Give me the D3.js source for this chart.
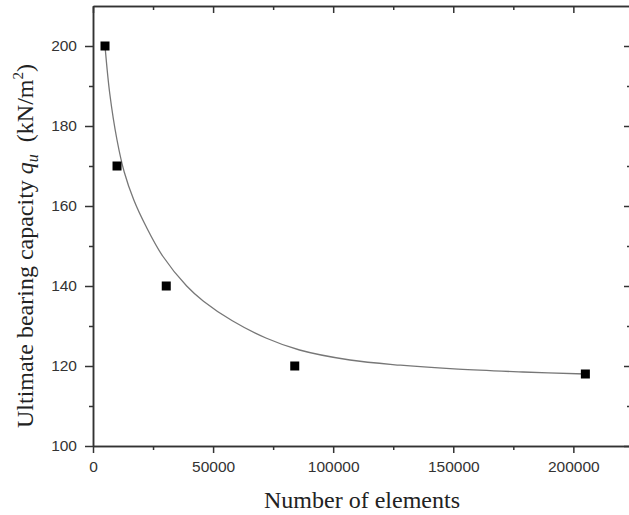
<!DOCTYPE html>
<html>
<head>
<meta charset="utf-8">
<script src="https://cdn.jsdelivr.net/npm/d3@7"></script>
<style>
  body { margin: 0; background: #fff; }
  .tick text { font-family: "Liberation Sans", Arial, sans-serif; font-size: 15.5px; fill: #333; }
  .axis path, .axis line { stroke: #333; stroke-width: 1.5; }
  .title { font-family: "Liberation Serif", "Times New Roman", serif; font-size: 24px; fill: #222; }
</style>
</head>
<body>
<div id="chart"></div>
<script>
// measured points
let elements = [5000, 10000, 30500, 84000, 205000];
let capacity = [200, 170, 140, 120, 118];

// fitted curve
let fitX = [5000, 7000, 10000, 13000, 17000, 22000, 29000, 39000, 46000, 58000, 72000, 86000, 107000, 128000, 152000, 179000, 205000];
let fitY = [200, 188, 176.5, 168.5, 161.5, 155, 147.5, 140, 136.2, 131.3, 127, 124, 121.5, 120.2, 119.2, 118.5, 118];

let xTicks = [0, 50000, 100000, 150000, 200000];
let yTicks = [100, 120, 140, 160, 180, 200];

let margin = {top: 6, right: 0, bottom: 69, left: 93},
    width = 538,
    height = 440;

const svg = d3.select('#chart')
    .append('svg')
    .attr('width', 629)
    .attr('height', 515)
    .append('g')
    .attr('transform', 'translate(' + margin.left + ',' + margin.top + ')');

let x = d3.scaleLinear().domain([0, 224000]).range([0, width]);
let y = d3.scaleLinear().domain([100, 210]).range([height, 0]);

let xMinor = d3.range(25000, 224000, 50000);
let yMinor = d3.range(110, 210, 20);

// bottom axis, ticks out
svg.append('g')
    .attr('class', 'axis')
    .attr('transform', 'translate(0,' + height + ')')
    .call(d3.axisBottom(x).tickValues(xMinor).tickSize(4).tickFormat('').tickSizeOuter(0));
svg.append('g')
    .attr('class', 'axis')
    .attr('transform', 'translate(0,' + height + ')')
    .call(d3.axisBottom(x).tickValues(xTicks).tickSize(7).tickPadding(8).tickFormat(d3.format('d')).tickSizeOuter(0));

// left axis, ticks out
svg.append('g')
    .attr('class', 'axis')
    .call(d3.axisLeft(y).tickValues(yMinor).tickSize(4).tickFormat('').tickSizeOuter(0));
svg.append('g')
    .attr('class', 'axis')
    .call(d3.axisLeft(y).tickValues(yTicks).tickSize(8).tickPadding(8).tickSizeOuter(0));

// top axis, ticks in
svg.append('g')
    .attr('class', 'axis')
    .call(d3.axisTop(x).tickValues(xMinor).tickSize(-4).tickFormat('').tickSizeOuter(0));
svg.append('g')
    .attr('class', 'axis')
    .call(d3.axisTop(x).tickValues(xTicks).tickSize(-7).tickFormat('').tickSizeOuter(0));

// right axis, ticks in
svg.append('g')
    .attr('class', 'axis')
    .attr('transform', 'translate(' + width + ',0)')
    .call(d3.axisRight(y).tickValues(yMinor).tickSize(-4).tickFormat('').tickSizeOuter(0));
svg.append('g')
    .attr('class', 'axis')
    .attr('transform', 'translate(' + width + ',0)')
    .call(d3.axisRight(y).tickValues(yTicks).tickSize(-7).tickFormat('').tickSizeOuter(0));

// fit curve
let fitLine = d3.line()
    .x(function(d, i) { return x(fitX[i]); })
    .y(function(d) { return y(d); })
    .curve(d3.curveCatmullRom.alpha(0.5));

svg.append('path')
    .datum(fitY)
    .attr('fill', 'none')
    .attr('stroke', '#777')
    .attr('stroke-width', 1.3)
    .attr('d', fitLine);

// markers
svg.selectAll('.pt')
    .data(capacity).enter()
    .append('rect')
    .attr('class', 'pt')
    .attr('x', function(d, i) { return x(elements[i]) - 4.5; })
    .attr('y', function(d) { return y(d) - 4.5; })
    .attr('width', 9)
    .attr('height', 9)
    .attr('fill', '#000');

// axis titles
svg.append('text')
    .attr('class', 'title')
    .attr('text-anchor', 'middle')
    .attr('x', width / 2)
    .attr('y', height + 62)
    .text('Number of elements');

let yt = svg.append('text')
    .attr('class', 'title')
    .attr('text-anchor', 'middle')
    .attr('transform', 'translate(' + (33 - margin.left) + ',' + (246 - margin.top) + ') rotate(-90)');
yt.append('tspan').text('Ultimate bearing capacity ');
yt.append('tspan').style('font-style', 'italic').text('q');
yt.append('tspan').style('font-style', 'italic').style('font-size', '16px').attr('dy', 5).text('u');
yt.append('tspan').attr('dy', -5).text('\u00a0 (kN/m');
yt.append('tspan').style('font-size', '15px').attr('dy', -10).text('2');
yt.append('tspan').attr('dy', 10).text(')');
</script>
</body>
</html>
